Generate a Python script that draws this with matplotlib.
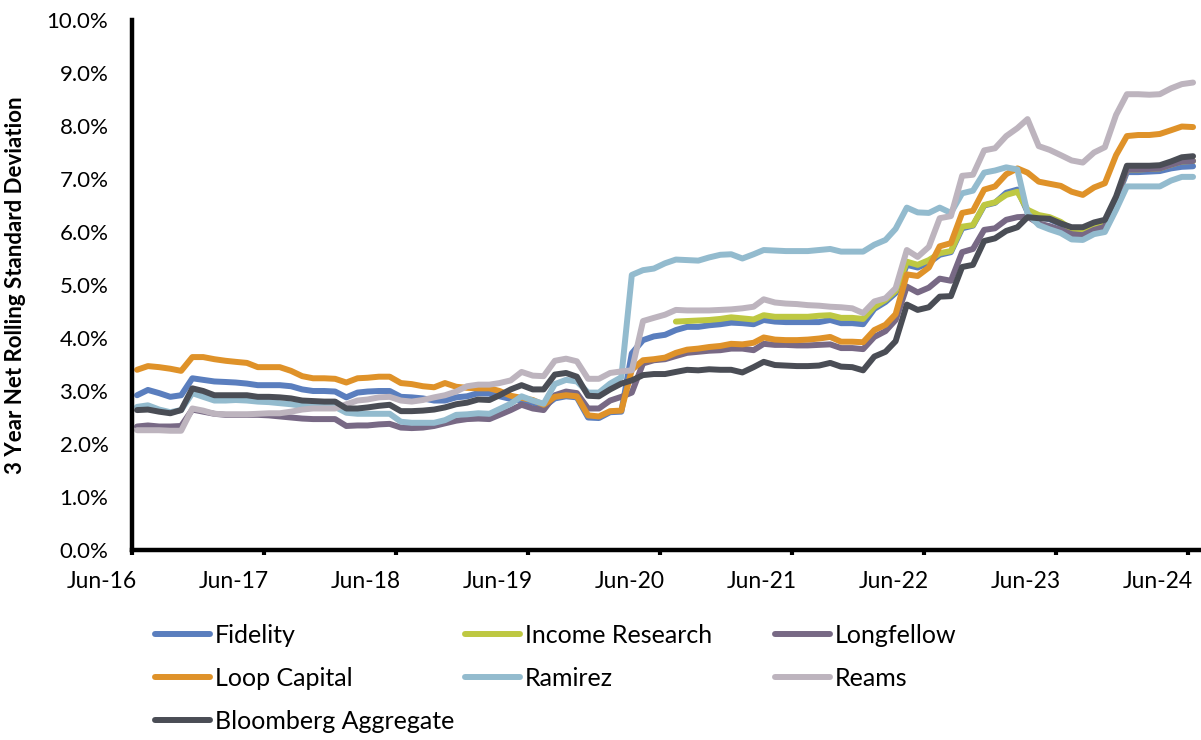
import numpy as np
import pandas as pd
import matplotlib
matplotlib.use('Agg')
import matplotlib.pyplot as plt
import matplotlib.dates as mdates
import matplotlib.transforms as mtransforms
from matplotlib.ticker import FuncFormatter, MultipleLocator

plt.rcParams['font.family'] = ['Lato', 'DejaVu Sans']

# monthly observations, Jun-16 .. Jun-24 (values in %)
dates = pd.date_range('2016-06-01', periods=97, freq='MS') + pd.Timedelta(days=14)

fidelity = [2.92, 3.02, 2.96, 2.89, 2.92, 3.24, 3.21, 3.18, 3.17, 3.16, 3.14, 3.11, 3.11, 3.11, 3.09, 3.03, 3.00, 3.00, 2.99, 2.88, 2.97, 2.99, 3.00, 3.00, 2.89,
            2.88, 2.86, 2.82, 2.82, 2.88, 2.90, 2.96, 2.95, 2.90, 2.85, 2.82, 2.78, 2.70, 2.86, 2.90, 2.88, 2.50, 2.49, 2.60, 2.61,
            3.71, 3.96, 4.03, 4.06, 4.15, 4.21, 4.21, 4.24, 4.26, 4.29, 4.28, 4.26, 4.34, 4.31, 4.30, 4.30, 4.30, 4.30, 4.34, 4.28, 4.28, 4.26,
            4.55, 4.68, 4.85, 5.38, 5.33, 5.42, 5.57, 5.62, 6.07, 6.12, 6.50, 6.55, 6.74, 6.80, 6.38, 6.28, 6.24, 6.15, 6.02, 6.00, 6.10, 6.12, 6.60,
            7.13, 7.13, 7.14, 7.15, 7.20, 7.23, 7.24]

income_research = [np.nan] * 49 + [
            4.31, 4.32, 4.33, 4.34, 4.36, 4.39, 4.37, 4.35, 4.43, 4.40, 4.40, 4.40, 4.40, 4.42, 4.43, 4.38, 4.38, 4.36,
            4.59, 4.72, 4.89, 5.44, 5.38, 5.47, 5.60, 5.64, 6.10, 6.13, 6.51, 6.56, 6.70, 6.76, 6.42, 6.32, 6.28, 6.19, 6.05, 6.04, 6.13, 6.16, 6.62,
            7.18, 7.18, 7.19, 7.20, 7.27, 7.33, 7.34]

longfellow = [2.33, 2.35, 2.33, 2.33, 2.34, 2.65, 2.61, 2.57, 2.55, 2.55, 2.55, 2.55, 2.54, 2.52, 2.50, 2.48, 2.47, 2.47, 2.47, 2.34, 2.35, 2.35, 2.37, 2.38, 2.31,
              2.30, 2.31, 2.34, 2.39, 2.44, 2.47, 2.48, 2.47, 2.55, 2.64, 2.74, 2.67, 2.64, 2.92, 2.99, 2.96, 2.67, 2.67, 2.82, 2.89,
              2.97, 3.52, 3.58, 3.60, 3.66, 3.72, 3.74, 3.76, 3.77, 3.80, 3.80, 3.77, 3.89, 3.87, 3.87, 3.86, 3.86, 3.87, 3.88, 3.81, 3.81, 3.79,
              4.02, 4.13, 4.34, 4.97, 4.86, 4.95, 5.12, 5.08, 5.62, 5.68, 6.04, 6.07, 6.23, 6.28, 6.29, 6.16, 6.11, 6.04, 5.96, 5.94, 6.04, 6.10, 6.62,
              7.18, 7.18, 7.19, 7.20, 7.27, 7.33, 7.34]

loop_capital = [3.40, 3.47, 3.45, 3.42, 3.38, 3.64, 3.64, 3.60, 3.57, 3.55, 3.53, 3.45, 3.45, 3.45, 3.38, 3.28, 3.24, 3.24, 3.23, 3.16, 3.24, 3.25, 3.27, 3.27, 3.15,
                3.13, 3.09, 3.07, 3.15, 3.08, 3.06, 3.05, 3.05, 3.00, 2.91, 2.87, 2.83, 2.74, 2.89, 2.92, 2.90, 2.54, 2.52, 2.62, 2.63,
                3.40, 3.58, 3.60, 3.63, 3.72, 3.78, 3.80, 3.83, 3.85, 3.89, 3.88, 3.91, 4.01, 3.97, 3.96, 3.96, 3.97, 3.99, 4.02, 3.93, 3.93, 3.92,
                4.15, 4.25, 4.45, 5.20, 5.17, 5.33, 5.73, 5.79, 6.36, 6.40, 6.80, 6.86, 7.09, 7.20, 7.12, 6.95, 6.91, 6.87, 6.76, 6.70, 6.84, 6.92, 7.45,
                7.81, 7.83, 7.83, 7.85, 7.92, 7.99, 7.98]

ramirez = [2.70, 2.73, 2.65, 2.60, 2.64, 2.96, 2.89, 2.82, 2.82, 2.83, 2.82, 2.80, 2.79, 2.77, 2.75, 2.72, 2.70, 2.70, 2.70, 2.59, 2.57, 2.57, 2.57, 2.57, 2.42,
           2.40, 2.40, 2.40, 2.45, 2.55, 2.56, 2.58, 2.57, 2.66, 2.76, 2.90, 2.82, 2.76, 3.13, 3.21, 3.18, 2.97, 2.97, 3.14, 3.26,
           5.19, 5.28, 5.31, 5.41, 5.48, 5.47, 5.46, 5.52, 5.57, 5.58, 5.50, 5.58, 5.66, 5.65, 5.64, 5.64, 5.64, 5.66, 5.68, 5.63, 5.63, 5.63,
           5.76, 5.85, 6.06, 6.46, 6.37, 6.36, 6.46, 6.36, 6.73, 6.78, 7.12, 7.16, 7.22, 7.18, 6.35, 6.13, 6.05, 5.98, 5.86, 5.85, 5.96, 6.00, 6.42,
           6.86, 6.86, 6.86, 6.86, 6.97, 7.04, 7.04]

reams = [2.26, 2.26, 2.26, 2.25, 2.25, 2.67, 2.63, 2.57, 2.56, 2.56, 2.56, 2.57, 2.58, 2.58, 2.61, 2.65, 2.67, 2.67, 2.67, 2.75, 2.82, 2.84, 2.88, 2.89, 2.82,
         2.80, 2.83, 2.88, 2.92, 2.99, 3.09, 3.12, 3.12, 3.15, 3.20, 3.36, 3.29, 3.28, 3.57, 3.61, 3.56, 3.23, 3.23, 3.34, 3.37,
         3.39, 4.32, 4.38, 4.44, 4.53, 4.52, 4.52, 4.52, 4.53, 4.54, 4.56, 4.59, 4.73, 4.67, 4.65, 4.64, 4.62, 4.61, 4.59, 4.58, 4.56, 4.47,
         4.69, 4.75, 4.94, 5.66, 5.53, 5.72, 6.26, 6.30, 7.06, 7.08, 7.54, 7.58, 7.81, 7.96, 8.13, 7.62, 7.55, 7.45, 7.35, 7.31, 7.50, 7.60, 8.21,
         8.60, 8.60, 8.59, 8.60, 8.71, 8.79, 8.82]

bloomberg = [2.64, 2.65, 2.61, 2.58, 2.64, 3.05, 3.00, 2.92, 2.92, 2.92, 2.92, 2.89, 2.89, 2.88, 2.86, 2.82, 2.81, 2.80, 2.80, 2.67, 2.67, 2.69, 2.72, 2.74, 2.62,
             2.62, 2.63, 2.65, 2.69, 2.75, 2.78, 2.84, 2.83, 2.92, 3.03, 3.11, 3.03, 3.03, 3.31, 3.34, 3.27, 2.91, 2.90, 3.03, 3.14,
             3.20, 3.30, 3.32, 3.32, 3.36, 3.40, 3.39, 3.41, 3.40, 3.40, 3.35, 3.45, 3.55, 3.49, 3.48, 3.47, 3.47, 3.48, 3.53, 3.46, 3.45, 3.39,
             3.65, 3.74, 3.94, 4.63, 4.53, 4.58, 4.78, 4.79, 5.34, 5.38, 5.83, 5.88, 6.02, 6.09, 6.28, 6.26, 6.25, 6.16, 6.09, 6.09, 6.18, 6.23, 6.67,
             7.25, 7.25, 7.25, 7.26, 7.33, 7.41, 7.43]

series = [
    ('Fidelity', fidelity, '#5A7EBE'),
    ('Income Research', income_research, '#BEC842'),
    ('Longfellow', longfellow, '#786985'),
    ('Loop Capital', loop_capital, '#DF9229'),
    ('Ramirez', ramirez, '#93BBCE'),
    ('Reams', reams, '#BDB4BE'),
    ('Bloomberg Aggregate', bloomberg, '#4A4D55'),
]

fig = plt.figure(figsize=(12.01, 7.40), dpi=100)
ax = fig.add_axes([132 / 1201, 190 / 740, 1069 / 1201, 530 / 740])

handles = {}
for name, vals, col in series:
    ln, = ax.plot(dates, vals, color=col, lw=4.3, label=name,
                  solid_joinstyle='round', solid_capstyle='round')
    handles[name] = ln

ax.set_xlim(pd.Timestamp('2016-06-01'), pd.Timestamp('2024-07-07'))
ax.set_ylim(0, 10)
ax.yaxis.set_major_locator(MultipleLocator(1))
ax.yaxis.set_major_formatter(FuncFormatter(lambda v, p: '{:.1f}%'.format(v)))
ax.set_xticks(pd.date_range('2016-06-01', '2024-06-01', freq='12MS'))
ax.xaxis.set_major_formatter(mdates.DateFormatter('%b-%y'))

for s in ['top', 'right']:
    ax.spines[s].set_visible(False)
for s in ['left', 'bottom']:
    ax.spines[s].set_linewidth(3.2)
    ax.spines[s].set_color('black')

ax.tick_params(axis='x', direction='out', length=3.8, width=3, labelsize=16.5, pad=11)
ax.tick_params(axis='y', length=0, labelsize=16, pad=17)

off = mtransforms.ScaledTranslation(5 / 100, 0, fig.dpi_scale_trans)
for lab in ax.get_xticklabels():
    lab.set_ha('right')
    lab.set_transform(lab.get_transform() + off)

fig.text(16 / 1201, 1 - 285 / 740, '3 Year Net Rolling Standard Deviation',
         rotation=90, ha='center', va='center', fontsize=16, fontweight='bold')

# legend laid out in three equal-width columns, row by row
cols = [['Fidelity', 'Loop Capital', 'Bloomberg Aggregate'],
        ['Income Research', 'Ramirez'],
        ['Longfellow', 'Reams']]
xs = [155, 465, 775]
for x, names in zip(xs, cols):
    leg = fig.legend([handles[n] for n in names], names, loc='upper left',
                     bbox_to_anchor=(x / 1201, 1 - 624 / 740), frameon=False,
                     borderpad=0, borderaxespad=0, handlelength=2.2,
                     handletextpad=0.2, labelspacing=0.8, fontsize=18)

fig.savefig('out.png', dpi=100)
